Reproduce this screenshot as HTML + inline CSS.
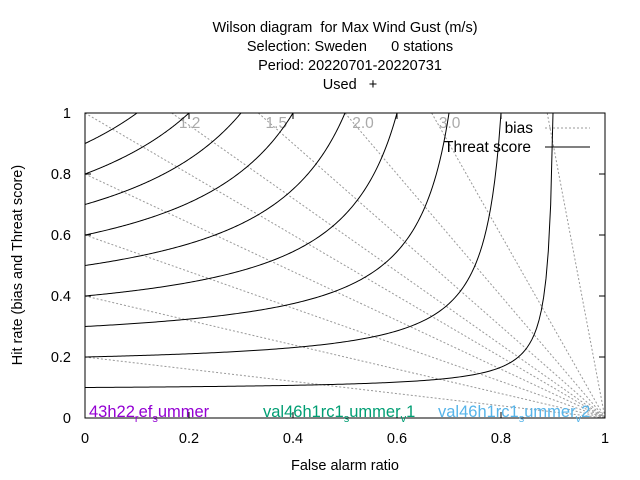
<!DOCTYPE html>
<html><head><meta charset="utf-8"><style>
body{margin:0;background:#fff;}
svg{display:block;font-family:"Liberation Sans",sans-serif;}
text{white-space:pre;}
</style></head><body>
<svg id="chart" width="640" height="480" viewBox="0 0 640 480" xmlns="http://www.w3.org/2000/svg" xml:space="preserve">
<g font-size="14.5" text-anchor="middle" fill="#000">
<text x="345" y="32">Wilson diagram  for Max Wind Gust (m/s)</text>
<text x="350" y="51">Selection: Sweden      0 stations</text>
<text x="350" y="70">Period: 20220701-20220731</text>
<text x="350" y="89">Used   +</text>
</g>
<g id="grid"></g>
<rect x="85" y="113" width="520" height="305" fill="none" stroke="#000" stroke-width="1"/>
<g id="ticks"></g>
<text x="345" y="470" font-size="14.5" text-anchor="middle">False alarm ratio</text>
<text transform="translate(22,265) rotate(-90)" font-size="14.5" text-anchor="middle">Hit rate (bias and Threat score)</text>
<g font-size="15.5">
<text x="533" y="133" text-anchor="end">bias</text>
<line x1="545" y1="128" x2="590" y2="128" stroke="#999" stroke-dasharray="2,2"/>
<text x="531" y="152" text-anchor="end">Threat score</text>
<line x1="545" y1="147" x2="590" y2="147" stroke="#000"/>
</g>
<g font-size="16.5">
<text x="89" y="417" fill="#9400d3">43h22<tspan dy="5" font-size="11">r</tspan><tspan dy="-5">ef</tspan><tspan dy="5" font-size="11">s</tspan><tspan dy="-5">ummer</tspan></text>
<text x="263" y="417" fill="#009e73">val46h1rc1<tspan dy="5" font-size="11">s</tspan><tspan dy="-5">ummer</tspan><tspan dy="5" font-size="11">v</tspan><tspan dy="-5">1</tspan></text>
<text x="438" y="417" fill="#56b4e9">val46h1rc1<tspan dy="5" font-size="11">s</tspan><tspan dy="-5">ummer</tspan><tspan dy="5" font-size="11">v</tspan><tspan dy="-5">2</tspan></text>
</g>
</svg>
<script>
const biasValues = [0.2, 0.4, 0.6, 0.8, 1, 1.2, 1.5, 2, 3, 9];
const biasLabels = ["1.2", "1.5", "2.0", "3.0"];
const biasLabelValues = [1.2, 1.5, 2, 3];
const threatValues = [0.1, 0.2, 0.3, 0.4, 0.5, 0.6, 0.7, 0.8, 0.9];
const tickValues = [0, 0.2, 0.4, 0.6, 0.8, 1];
const tickLabels = ["0", "0.2", "0.4", "0.6", "0.8", "1"];

const NS = "http://www.w3.org/2000/svg";
const X0 = 85, X1 = 605, Y0 = 418, Y1 = 113;
function sx(v){ return X0 + v*(X1-X0); }
function sy(v){ return Y0 - v*(Y0-Y1); }
function mk(tag, attrs, parent){
  const e = document.createElementNS(NS, tag);
  for (const k in attrs) e.setAttribute(k, attrs[k]);
  parent.appendChild(e); return e;
}
const grid = document.getElementById("grid");
const ticks = document.getElementById("ticks");

biasValues.forEach(function(b){
  let xs = b > 1 ? 1 - 1/b : 0;
  let ys = b > 1 ? 1 : b;
  const l = mk("line", {x1: sx(xs), y1: sy(ys), x2: sx(1), y2: sy(0), stroke: "#999", "stroke-dasharray": "2,2", "stroke-width": 1}, grid);
  
  
});
biasLabelValues.forEach(function(b, i){
  const t = mk("text", {x: sx(1 - 1/b) + 18, y: 128, fill: "#aaa", "font-size": "15.5", "text-anchor": "middle"}, grid);
  t.textContent = biasLabels[i];
  
  
});
threatValues.forEach(function(ts){
  const pts = [];
  const fmax = 1 - ts;
  for (let i = 0; i <= 200; i++){
    const f = fmax * i / 200;
    const d = 1/ts + 1 - 1/(1-f);
    let pod = d > 0 ? 1/d : 1;
    if (pod > 1) pod = 1;
    pts.push(sx(f).toFixed(2) + "," + sy(pod).toFixed(2));
  }
  const p = mk("polyline", {points: pts.join(" "), fill: "none", stroke: "#000", "stroke-width": 1}, grid);
  
  
});
tickValues.forEach(function(v, i){
  const x = sx(v), y = sy(v);
  mk("line", {x1: x, y1: Y0, x2: x, y2: Y0-6, stroke: "#000"}, ticks);
  mk("line", {x1: x, y1: Y1, x2: x, y2: Y1+6, stroke: "#000"}, ticks);
  mk("line", {x1: X0, y1: y, x2: X0+6, y2: y, stroke: "#000"}, ticks);
  mk("line", {x1: X1, y1: y, x2: X1-6, y2: y, stroke: "#000"}, ticks);
  const tx = mk("text", {x: x, y: 443, "font-size": "14.5", "text-anchor": "middle"}, ticks);
  tx.textContent = tickLabels[i];
  
  
  const ty = mk("text", {x: 71, y: y + 5, "font-size": "14.5", "text-anchor": "end"}, ticks);
  ty.textContent = tickLabels[i];
  
  
});
</script>
</body></html>
